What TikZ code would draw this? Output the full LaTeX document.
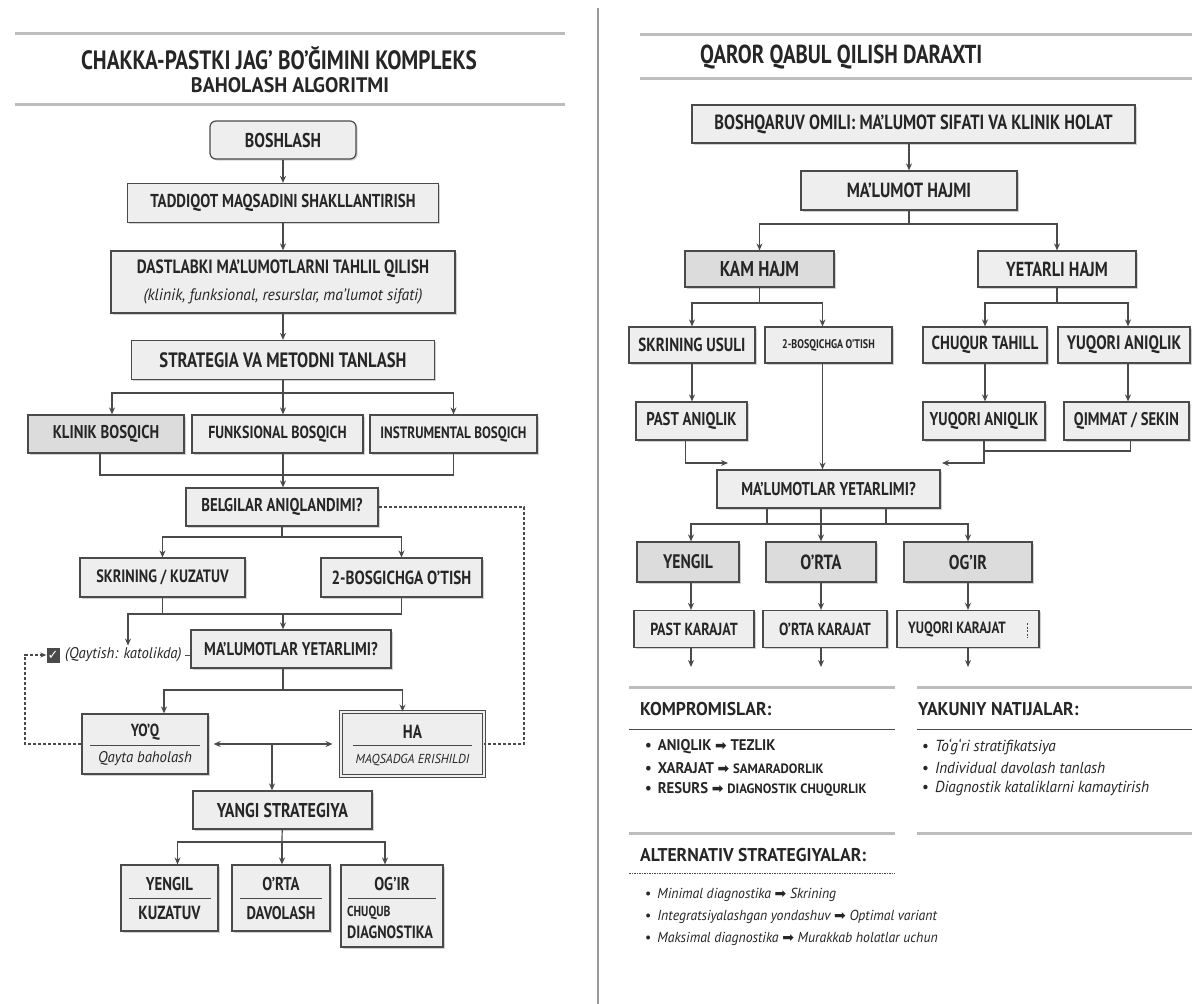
\documentclass[tikz,border=0pt]{standalone}
\usepackage{fontspec}
\setmainfont{PT Sans}[FakeStretch=0.8]
\newfontfamily\wf{PT Sans}[FakeStretch=0.95]
\newfontfamily\sym{DejaVu Sans}
\usetikzlibrary{arrows.meta,shadows,calc}
\definecolor{linec}{HTML}{4A4A4A}
\definecolor{txt}{HTML}{262626}
\definecolor{fillA}{HTML}{EEEEEE}
\definecolor{fillB}{HTML}{DCDCDC}
\definecolor{rulec}{HTML}{BDBDBD}
\definecolor{divc}{HTML}{9A9A9A}
\newcommand\fz[1]{\fontsize{#1}{#1}\selectfont}
\newcommand\arrw{{\sym\fontsize{14}{14}\selectfont ➡}}
\begin{document}
\begin{tikzpicture}[x=1pt,y=-1pt,
  box/.style={draw=linec, fill=fillA, line width=1.2pt, inner sep=0pt, align=center, text=txt,
    font=\bfseries\fz{18}, drop shadow={shadow xshift=1.6pt, shadow yshift=-1.6pt, fill=black, opacity=0.18}},
  boxd/.style={box, fill=fillB},
  ln/.style={draw=linec, line width=1.2pt},
  arr/.style={ln, -{Stealth[length=7pt,width=6pt]}},
  dsh/.style={draw=linec, line width=1.1pt, dash pattern=on 3pt off 2pt},
  sepl/.style={draw=linec, line width=0.9pt},
  rulel/.style={draw=rulec, line width=3pt},
  thinrule/.style={draw=linec, line width=0.9pt},
  lbl/.style={inner sep=0pt, text=txt},
  head/.style={lbl, anchor=west, font=\wf\bfseries\fz{18.5}},
  bulc/.style={lbl, anchor=west, font=\wf\bfseries\fz{15.5}},
  buli/.style={lbl, anchor=west, font=\wf\itshape\fz{16}},
]
\useasboundingbox[fill=white] (0,0) rectangle (1192,1004);

% ---------------- LEFT PANEL ----------------
\draw[rulel] (15,33) -- (565,33);
\node[lbl, font=\bfseries\fz{26.5}] (t1) at (279,58) {CHAKKA-PASTKI JAG’ BO’ĞIMINI KOMPLEKS};
\node[lbl, font=\wf\bfseries\fz{21}] (t2) at (290,85) {BAHOLASH ALGORITMI};
\draw[rulel] (15,104) -- (565,104);

\node[box, rounded corners=6pt, minimum width=146pt, minimum height=38pt, font=\bfseries\fz{20}] (start) at (283,140) {BOSHLASH};
\node[box, minimum width=311pt, minimum height=39pt, font=\bfseries\fz{18.7}] (tad) at (283,203) {TADDIQOT MAQSADINI SHAKLLANTIRISH};
\node[box, minimum width=344pt, minimum height=62pt, font=\bfseries\fz{19.2}] (dast) at (283,282) {DASTLABKI MA’LUMOTLARNI TAHLIL QILISH\\[7pt]{\wf\mdseries\itshape\fz{16.5}(klinik, funksional, resurslar, ma’lumot sifati)}};
\node[box, minimum width=303pt, minimum height=39pt, font=\bfseries\fz{20.8}] (strat) at (283,360) {STRATEGIA VA METODNI TANLASH};
\node[boxd, minimum width=156pt, minimum height=38pt, font=\bfseries\fz{18.5}] (klinik) at (106,434) {KLINIK BOSQICH};
\node[box, minimum width=171pt, minimum height=38pt, font=\bfseries\fz{17.5}] (funk) at (277.5,434) {FUNKSIONAL BOSQICH};
\node[box, minimum width=167pt, minimum height=38pt, font=\bfseries\fz{16.5}] (instr) at (453.5,434) {INSTRUMENTAL BOSQICH};
\node[box, minimum width=192pt, minimum height=38pt, font=\bfseries\fz{18.5}] (belg) at (282,507) {BELGILAR ANIQLANDIMI?};
\node[box, minimum width=165pt, minimum height=39pt, font=\bfseries\fz{17.9}] (skr) at (162.5,577.5) {SKRINING / KUZATUV};
\node[box, minimum width=161pt, minimum height=39pt, font=\bfseries\fz{19}] (bos2) at (401.5,577.5) {2-BOSGICHGA O’TISH};
\node[box, minimum width=200pt, minimum height=38pt, font=\bfseries\fz{18.4}] (mal) at (291,649) {MA’LUMOTLAR YETARLIMI?};
\node[fill=linec, text=white, inner sep=0pt, minimum width=13pt, minimum height=15pt, font=\sym\bfseries\fz{13}] (chk) at (53,655) {✓};
\node[lbl, anchor=west, font=\wf\itshape\fz{15.5}] (lbl) at (65,655) {(Qaytish: katolikda)};

\node[box, minimum width=126pt, minimum height=60pt] (yoq) at (145,744) {};
\node[lbl, font=\bfseries\fz{17.5}] (yoqa) at (145,732) {YO’Q};
\node[lbl, font=\wf\itshape\fz{15.5}] (yoqb) at (145,759) {Qayta baholash};
\draw[sepl] (90,745) -- (200,745);

\node[box, minimum width=143pt, minimum height=64pt, double=fillA, double distance=2.2pt, line width=0.9pt] (ha) at (412.5,744) {};
\node[lbl, font=\bfseries\fz{19}] (haa) at (412.5,732) {HA};
\node[lbl, font=\wf\itshape\fz{13}] (hab) at (412.5,760) {MAQSADGA ERISHILDI};
\draw[sepl] (353,745) -- (472,745);

\node[box, minimum width=179pt, minimum height=38pt, font=\bfseries\fz{20}] (yangi) at (282.5,810) {YANGI STRATEGIYA};

\node[box, minimum width=97pt, minimum height=66pt] (yen) at (169.5,898) {};
\node[lbl, font=\bfseries\fz{18.5}] (yena) at (169.5,884) {YENGIL};
\node[lbl, font=\bfseries\fz{19}] (yenb) at (169.5,913) {KUZATUV};
\draw[sepl] (129,898) -- (211,898);
\node[box, minimum width=98pt, minimum height=66pt] (ort) at (281,898) {};
\node[lbl, font=\bfseries\fz{18.5}] (orta) at (281,884) {O’RTA};
\node[lbl, font=\bfseries\fz{18.3}] (ortb) at (281,913) {DAVOLASH};
\draw[sepl] (240,898) -- (322,898);
\node[box, minimum width=102pt, minimum height=82pt] (ogir) at (392,906) {};
\node[lbl, font=\bfseries\fz{18.5}] (ogira) at (392,884) {OG’IR};
\node[lbl, anchor=west, font=\bfseries\fz{14.5}] (ogirb) at (347,913) {CHUQUB};
\node[lbl, anchor=west, font=\bfseries\fz{17.8}] (ogirc) at (347,932) {DIAGNOSTIKA};
\draw[sepl] (348,898) -- (436,898);

% left connectors
\draw[arr] (start) -- (tad);
\draw[arr] (tad) -- (dast);
\draw[arr] (dast) -- (strat);
\coordinate (b1) at (283,393);
\draw[ln] (strat) -- (b1);
\draw[arr] (b1) -| ([xshift=6pt]klinik.north);
\draw[arr] (b1) -| (instr.north);
\draw[arr] (b1) -- (b1 |- funk.north);
\coordinate (m1) at (283,475);
\draw[ln] ([xshift=-6pt]klinik.south) |- (m1) -| (instr.south);
\draw[ln] (m1 |- funk.south) -- (m1);
\draw[arr] (m1) -- (m1 |- belg.north);
\coordinate (dr) at (524,507);
\draw[dsh] (belg.east) -- (dr) |- (ha.east);
\coordinate (b2) at (282,537);
\draw[ln] (belg) -- (b2);
\draw[arr] (b2) -| (skr.north);
\draw[arr] (b2) -| (bos2.north);
\coordinate (m2) at (283,614);
\coordinate (m2l) at (128,614);
\draw[ln] (skr.south) -- (skr.south |- m2);
\draw[arr, shorten >=2pt] (bos2.south) |- (m2l) -- (m2l |- lbl.north);
\draw[arr] (m2) -- (m2 |- mal.north);
\draw[ln, line width=0.9pt] ([xshift=3pt]lbl.east) -- (lbl.east -| mal.west);
\coordinate (b3) at (283,690);
\draw[ln] (b3 |- mal.south) -- (b3);
\draw[arr] (b3) -| ([xshift=19pt]yoq.north);
\draw[arr] (b3) -| ([xshift=-10pt]ha.north);
\draw[ln, {Stealth[length=7pt,width=6pt]}-{Stealth[length=7pt,width=6pt]}, shorten <=5pt, shorten >=8pt] (yoq.east) -- (ha.west);
\coordinate (d1) at (272,744);
\draw[arr] (d1) -- (d1 |- yangi.north);
\coordinate (b4) at (282,842);
\draw[ln] (yangi) -- (b4);
\draw[arr] (b4) -| ([xshift=8pt]yen.north);
\draw[arr] (b4) -| ([xshift=-7pt]ogir.north);
\draw[arr] (b4) -- (b4 |- ort.north);
\coordinate (lp) at (25,744);
\draw[dsh, -{Stealth[length=6pt,width=5pt]}] (yoq.west) -- (lp) |- (chk.west);

% divider
\draw[divc, line width=2.2pt] (598,8) -- (598,1004);

% ---------------- RIGHT PANEL ----------------
\draw[rulel] (640,34) -- (1192,34);
\node[lbl, anchor=west, font=\bfseries\fz{26}] (rt) at (700,57) {QAROR QABUL QILISH DARAXTI};
\draw[rulel] (640,78) -- (1192,78);

\node[box, minimum width=443pt, minimum height=38pt, font=\bfseries\fz{20.5}] (boq) at (913.5,124) {BOSHQARUV OMILI: MA’LUMOT SIFATI VA KLINIK HOLAT};
\node[box, minimum width=216pt, minimum height=39pt, font=\bfseries\fz{20.5}] (hajm) at (909,190.5) {MA’LUMOT HAJMI};
\node[boxd, minimum width=149pt, minimum height=36pt, font=\bfseries\fz{21.4}] (kam) at (759.5,269) {KAM HAJM};
\node[box, minimum width=158pt, minimum height=36pt, font=\bfseries\fz{20.3}] (yet) at (1057,269) {YETARLI HAJM};
\node[box, minimum width=126pt, minimum height=36pt, font=\bfseries\fz{18.9}] (skru) at (692,345) {SKRINING USULI};
\node[box, minimum width=127pt, minimum height=36pt, font=\bfseries\fz{12.5}] (bosr) at (828.5,345) {2-BOSQICHGA O’TISH};
\node[box, minimum width=124pt, minimum height=36pt, font=\bfseries\fz{18.9}] (chuq) at (985,345) {CHUQUR TAHILL};
\node[box, minimum width=132pt, minimum height=36pt, font=\bfseries\fz{19.5}] (yuq1) at (1124,345) {YUQORI ANIQLIK};
\node[box, minimum width=111pt, minimum height=38pt, font=\bfseries\fz{18.5}] (past) at (691.5,421) {PAST ANIQLIK};
\node[box, minimum width=122pt, minimum height=38pt, font=\bfseries\fz{18.5}] (yuq2) at (984,421) {YUQORI ANIQLIK};
\node[box, minimum width=125pt, minimum height=38pt, font=\bfseries\fz{18.3}] (qim) at (1126.5,421) {QIMMAT / SEKIN};
\node[box, minimum width=223pt, minimum height=38pt, font=\bfseries\fz{18.5}] (mal2) at (828.5,489) {MA’LUMOTLAR YETARLIMI?};
\node[boxd, minimum width=102pt, minimum height=40pt, font=\bfseries\fz{19.6}] (yeng) at (688,562) {YENGIL};
\node[boxd, minimum width=110pt, minimum height=40pt, font=\bfseries\fz{20.5}] (ortr) at (821,562) {O’RTA};
\node[boxd, minimum width=128pt, minimum height=40pt, font=\bfseries\fz{20}] (og) at (968,562) {OG’IR};
\node[box, minimum width=120pt, minimum height=37pt, font=\bfseries\fz{17.5}] (pk) at (694,629) {PAST KARAJAT};
\node[box, minimum width=124pt, minimum height=37pt, font=\bfseries\fz{17.5}] (okr) at (825,629) {O’RTA KARAJAT};
\node[box, minimum width=142pt, minimum height=37pt, font=\bfseries\fz{16.3}] (yk) at (968,629) {YUQORI KARAJAT\hspace{22pt}};
\draw[linec, line width=0.8pt, dash pattern=on 2pt off 1.5pt] (1027,623) -- (1027,638);

% right connectors
\draw[arr] (hajm.north |- boq.south) -- (hajm.north);
\coordinate (rb1) at (909,224);
\draw[ln] (hajm) -- (rb1);
\draw[arr] (rb1) -| (kam.north);
\draw[arr] (rb1) -| (yet.north);
\coordinate (rb2) at (759.5,303);
\draw[ln] (kam) -- (rb2);
\draw[arr] (rb2) -| (skru.north);
\draw[arr] (rb2) -| ([xshift=-6pt]bosr.north);
\coordinate (rb3) at (1057,303);
\draw[ln] (yet) -- (rb3);
\draw[arr] (rb3) -| (chuq.north);
\draw[arr] (rb3) -| ([xshift=4pt]yuq1.north);
\draw[arr] (skru.south) -- (skru.south |- past.north);
\draw[arr] (chuq.south) -- (chuq.south |- yuq2.north);
\draw[arr] ([xshift=4pt]yuq1.south) -- ([xshift=4pt]yuq1.south |- qim.north);
\coordinate (pj) at (728,463);
\draw[arr] ([xshift=-6pt]past.south) |- (pj);
\draw[arr] ([xshift=-6pt]bosr.south) -- ([xshift=-6pt]bosr.south |- mal2.north);
\coordinate (qj) at (942,463);
\draw[arr] (yuq2.south) |- (qj);
\coordinate (qj2) at (984,451);
\draw[ln] ([xshift=4pt]qim.south) |- (qj2);
\coordinate (rv1) at (767,524);
\coordinate (rv2) at (821,524);
\coordinate (rv3) at (886,524);
\draw[ln] (rv1 |- mal2.south) -- (rv1);
\draw[ln] (rv2 |- mal2.south) -- (rv2);
\draw[ln] (rv3 |- mal2.south) -- (rv3);
\draw[arr] (rv2) -| ([xshift=3pt]yeng.north);
\draw[arr] (rv2) -| (og.north);
\draw[arr] (rv2) -- (ortr.north);
\draw[arr] ([xshift=3pt]yeng.south) -- ([xshift=3pt]yeng.south |- pk.north);
\draw[arr] (ortr.south) -- (ortr.south |- okr.north);
\draw[arr] (og.south) -- (og.south |- yk.north);
\coordinate (ee) at (0,667);
\draw[arr] ([xshift=-3pt]pk.south) -- ([xshift=-3pt]pk.south |- ee);
\draw[arr] ([xshift=-4pt]okr.south) -- ([xshift=-4pt]okr.south |- ee);
\draw[arr] (yk.south) -- (yk.south |- ee);

% bottom sections
\draw[rulel] (629,687) -- (895,687);
\draw[rulel] (917,687) -- (1192,687);
\node[head] (h1) at (640,709) {KOMPROMISLAR:};
\node[head] (h2) at (918,709) {YAKUNIY NATIJALAR:};
\draw[thinrule] (629,729) -- (895,729);
\draw[thinrule] (917,729) -- (1192,729);
\node[bulc] (k1) at (645,747) {•\hspace{6pt}ANIQLIK \arrw{} TEZLIK};
\node[bulc] (k2) at (645,768) {•\hspace{6pt}XARAJAT \arrw{} {\fz{13.5}SAMARADORLIK}};
\node[bulc] (k3) at (645,789) {•\hspace{6pt}RESURS \arrw{} {\fz{13.5}DIAGNOSTIK CHUQURLIK}};
\node[buli] (y1) at (922,747) {{\upshape•}\hspace{6pt}To‘g‘ri stratifikatsiya};
\node[buli] (y2) at (922,768) {{\upshape•}\hspace{6pt}Individual davolash tanlash};
\node[buli] (y3) at (922,789) {{\upshape•}\hspace{6pt}Diagnostik kataliklarni kamaytirish};
\draw[rulel] (629,833) -- (895,833);
\draw[rulel] (917,833) -- (1192,833);
\node[head] (h3) at (640,855) {ALTERNATIV STRATEGIYALAR:};
\draw[thinrule, dash pattern=on 1.5pt off 1pt] (629,873) -- (895,873);
\node[buli, font=\wf\itshape\fz{14.5}] (a1) at (645,895) {{\upshape•}\hspace{6pt}Minimal diagnostika \arrw{} Skrining};
\node[buli, font=\wf\itshape\fz{14.5}] (a2) at (645,917) {{\upshape•}\hspace{6pt}Integratsiyalashgan yondashuv \arrw{} Optimal variant};
\node[buli, font=\wf\itshape\fz{14.5}] (a3) at (645,939) {{\upshape•}\hspace{6pt}Maksimal diagnostika \arrw{} Murakkab holatlar uchun};
\end{tikzpicture}
\end{document}
